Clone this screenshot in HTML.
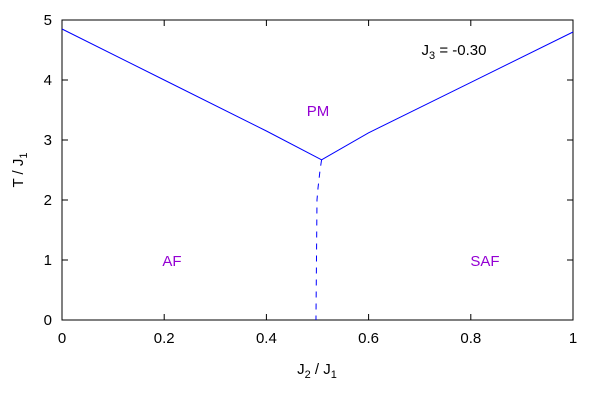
<!DOCTYPE html>
<html><head><meta charset="utf-8"><style>
body{margin:0;background:#fff}
svg text{font-family:"Liberation Sans",sans-serif;font-size:15px}
</style></head><body>
<svg width="600" height="400">
<rect x="62" y="20" width="511" height="300" fill="none" stroke="#000" stroke-width="1"/>
<g id="axes"></g>
<g id="series"></g>
<text x="454" y="55" text-anchor="middle">J<tspan font-size="11" dy="4">3</tspan><tspan dy="-4"> = -0.30</tspan></text>
<text x="318" y="116" text-anchor="middle" fill="#9400d3" font-size="16">PM</text>
<text x="172" y="266" text-anchor="middle" fill="#9400d3">AF</text>
<text x="485" y="266" text-anchor="middle" fill="#9400d3">SAF</text>
<text x="317" y="374" text-anchor="middle">J<tspan font-size="11" dy="4">2</tspan><tspan dy="-4"> / J</tspan><tspan font-size="11" dy="4">1</tspan></text>
<text transform="translate(23,170) rotate(-90)" text-anchor="middle">T / J<tspan font-size="11" dy="4">1</tspan></text>
</svg>
<script>
const xTicks=[0,0.2,0.4,0.6,0.8,1];
const xTickLabels=["0","0.2","0.4","0.6","0.8","1"];
const yTicks=[0,1,2,3,4,5];
const yTickLabels=["0","1","2","3","4","5"];
const leftX=[0,0.2,0.4,0.508];
const leftT=[4.85,4.0,3.15,2.67];
const rightX=[0.508,0.6,0.8,1.0];
const rightT=[2.67,3.12,3.96,4.8];
const dashX=[0.508,0.505,0.501,0.499,0.498,0.497];
const dashT=[2.67,2.5,2.2,2.0,1.0,0];
const X=v=>62+v*511, Y=v=>320-v*60;
const NS="http://www.w3.org/2000/svg";
const ax=document.getElementById('axes'), se=document.getElementById('series');
function mk(t,a,p){const e=document.createElementNS(NS,t);for(const k in a)e.setAttribute(k,a[k]);p.appendChild(e);return e;}
xTicks.forEach((v,i)=>{
 const l=mk('path',{d:`M${X(v)},320v-6M${X(v)},20v6`,stroke:'#000'},ax);
 
 
 const t=mk('text',{x:X(v),y:343,'text-anchor':'middle'},ax);t.textContent=xTickLabels[i];
 
 
});
yTicks.forEach((v,i)=>{
 const l=mk('path',{d:`M62,${Y(v)}h6M573,${Y(v)}h-6`,stroke:'#000'},ax);
 
 
 const t=mk('text',{x:52,y:Y(v)+5,'text-anchor':'end'},ax);t.textContent=yTickLabels[i];
 
 
});
function line(xs,ts,dash,name){
 const d=xs.map((x,i)=>(i?'L':'M')+X(x)+','+Y(ts[i])).join('');
 const p=mk('path',{d,fill:'none',stroke:'#0000ff','stroke-width':1},se);
 if(dash)p.setAttribute('stroke-dasharray','6,6');
 
 
}
line(leftX,leftT,false,'af-pm-boundary');
line(rightX,rightT,false,'saf-pm-boundary');
line(dashX,dashT,true,'af-saf-boundary');
</script>
</body></html>
